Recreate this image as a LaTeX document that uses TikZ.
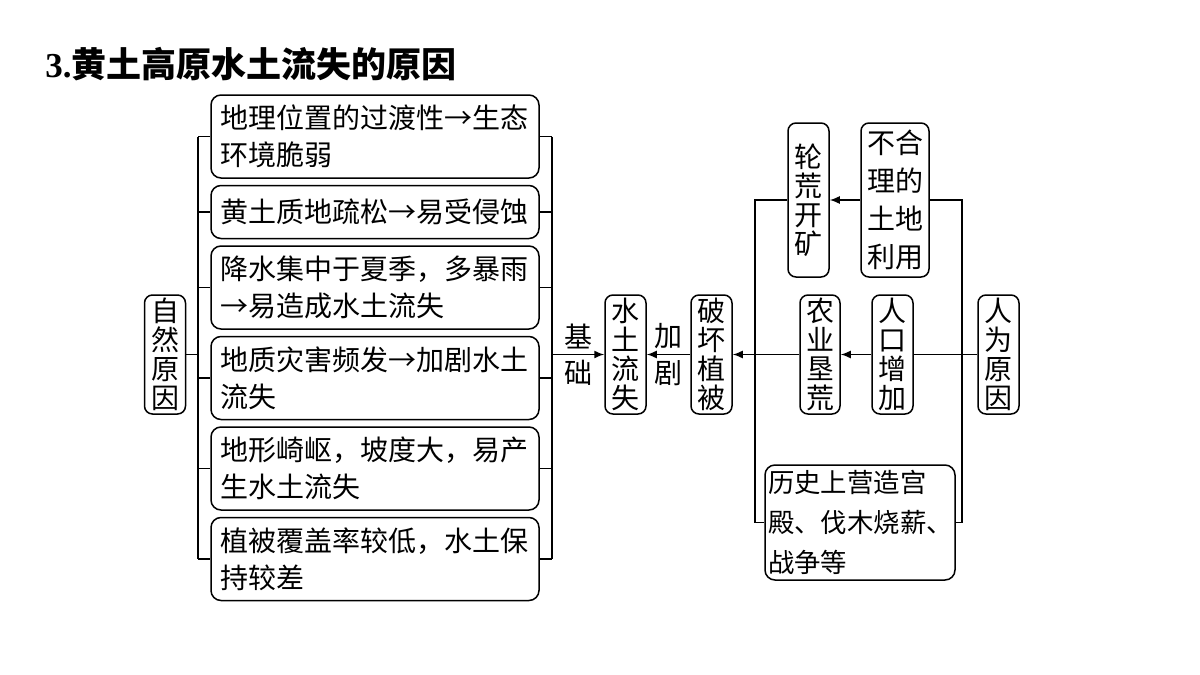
\documentclass[tikz,border=0pt]{standalone}
\usepackage{fontspec}
\setmainfont{Liberation Serif}
\newfontfamily\cjk{Noto Sans CJK SC}
\usetikzlibrary{arrows.meta,positioning}

\begin{document}
\begin{tikzpicture}[
  x=0.5pt, y=-0.5pt,
  ln/.style={line width=0.75pt},
  ar/.style={ln, -{Latex[length=5pt,width=4pt]}},
  cbox/.style={draw, ln, rounded corners=5pt, align=left, text width=155pt, inner xsep=4.5pt, inner ysep=1pt, minimum height=41.5pt, font=\cjk\fontsize{14}{18.5}\selectfont},
  vbox/.style={draw, ln, rounded corners=4pt, align=center, inner sep=1pt, minimum width=20.5pt, minimum height=59.5pt, font=\cjk\fontsize{14}{14.5}\selectfont},
  lab/.style={font=\cjk\fontsize{14}{14}\selectfont, inner sep=2.5pt}
]
\useasboundingbox (0,0) rectangle (1200,675);

% title
\node[anchor=west, inner sep=0pt, font=\fontsize{17.5}{20}\selectfont\bfseries] (title) at (45,64) {3.{\cjk 黄土高原水土流失的原因}};

% natural causes
\node[vbox] (nat) at (165,354.5) {自\\然\\原\\因};
\node[cbox] (c1) at (375,136.5) {地理位置的过渡性→生态\\环境脆弱};
\node[cbox, minimum height=26.5pt, below=3pt of c1] (c2) {黄土质地疏松→易受侵蚀};
\node[cbox, below=3pt of c2] (c3) {降水集中于夏季，多暴雨\\→易造成水土流失};
\node[cbox, below=3pt of c3] (c4) {地质灾害频发→加剧水土\\流失};
\node[cbox, below=3pt of c4] (c5) {地形崎岖，坡度大，易产\\生水土流失};
\node[cbox, below=3pt of c5] (c6) {植被覆盖率较低，水土保\\持较差};

\coordinate (lbus) at (198,0);
\coordinate (rbus) at (552,0);
\draw[ln] (nat.east) -- (nat.east -| lbus);
\draw[ln] (c1.west -| lbus) -- (c6.west -| lbus);
\draw[ln] (c1.east -| rbus) -- (c6.east -| rbus);
\foreach \c in {c1,c2,c3,c4,c5,c6}
  \draw[ln] (\c.west -| lbus) -- (\c.west) (\c.east) -- (\c.east -| rbus);

% soil erosion
\node[vbox] (sl) at (625.5,354.5) {水\\土\\流\\失};
\node[vbox] (ph) at (711.5,354.5) {破\\坏\\植\\被};
\draw[ar] (sl.west -| rbus) -- node[lab, above] {基} node[lab, below] {础} (sl.west);
\draw[ar] (ph.west) -- node[lab, above] {加} node[lab, below] {剧} (sl.east);

% human causes
\node[vbox, minimum height=77pt] (lk) at (808.5,200) {轮\\荒\\开\\矿};
\node[vbox, minimum height=77pt, minimum width=34pt, font=\cjk\fontsize{14}{19}\selectfont] (bh) at (895,200) {不合\\理的\\土地\\利用};
\node[vbox, minimum width=20pt] (ny) at (820,354.5) {农\\业\\垦\\荒};
\node[vbox] (rk) at (892.5,354.5) {人\\口\\增\\加};
\node[vbox] (rw) at (998.5,354.5) {人\\为\\原\\因};
\node[cbox, text width=92pt, inner xsep=1.5pt, minimum height=57.5pt, font=\cjk\fontsize{13.2}{20}\selectfont] (ls) at (860,522.5) {历史上营造宫\\殿、伐木烧薪、\\战争等};

\coordinate (lv) at (755,0);
\coordinate (rv) at (962,0);
\draw[ar] (bh.west) -- (lk.east);
\draw[ln] (lk.west) -- (lk.west -| lv) -- (ls.west -| lv) -- (ls.west);
\draw[ln] (bh.east) -- (bh.east -| rv) -- (ls.east -| rv) -- (ls.east);
\draw[ln] (rw.west) -- (rk.east);
\draw[ar] (rk.west) -- (ny.east);
\draw[ar] (ny.west) -- (ph.east);
\end{tikzpicture}
\end{document}
